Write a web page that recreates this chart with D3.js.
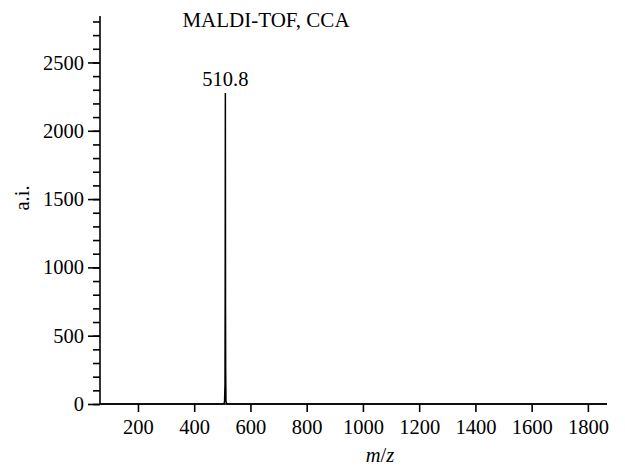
<!DOCTYPE html>
<html>
<head>
<meta charset="utf-8">
<script src="https://cdn.jsdelivr.net/npm/d3@7"></script>
<style>
  body { margin: 0; background: #fff; }
  svg text { font-family: "Liberation Serif", "Times New Roman", serif !important; fill: #000; }
</style>
</head>
<body>
<svg id="chart" width="625" height="468"></svg>
<script>
// spectrum data (m/z, intensity)
const mzValues   = [65, 500, 506, 508, 509.5, 510.2, 510.8, 511.4, 511.9, 512.5, 513, 516, 1868];
const intensity  = [0, 0, 0, 20, 150, 900, 2277, 700, 260, 120, 20, 0, 0];
const peakLabels = [{ mz: 510.8, text: "510.8" }];

const xTicks = [200, 400, 600, 800, 1000, 1200, 1400, 1600, 1800];
const yMajor = [0, 500, 1000, 1500, 2000, 2500];
const yMinor = d3.range(0, 2801, 100);

const X_DOMAIN = [65, 1868];
const Y_DOMAIN = [0, 2840];

const LEFT = 100, RIGHT = 607, TOP = 16, BOTTOM = 404;
const FS = "20.5px";

const svg = d3.select("#chart");

const x = d3.scaleLinear().domain(X_DOMAIN).range([LEFT, RIGHT]);
const y = d3.scaleLinear().domain(Y_DOMAIN).range([BOTTOM, TOP]);

// ── Y axis: minor ticks, then labelled majors ──
svg.append("g")
  .attr("transform", `translate(${LEFT},0)`)
  .call(d3.axisLeft(y).tickValues(yMinor).tickSize(7).tickSizeOuter(0).tickFormat(""))
  .call(g => g.select(".domain").remove())
  .call(g => g.selectAll("line").attr("stroke-width", 1.6));

const yAx = svg.append("g")
  .attr("transform", `translate(${LEFT},0)`)
  .call(d3.axisLeft(y).tickValues(yMajor).tickSize(12).tickSizeOuter(0)
    .tickPadding(4).tickFormat(d3.format("d")));
yAx.select(".domain").attr("d", `M0,${y(Y_DOMAIN[1])}V${BOTTOM}`).attr("stroke-width", 1.6);
yAx.selectAll("line").attr("stroke-width", 1.6);
yAx.selectAll("text").style("font-size", FS);

// ── X axis ──
const xAx = svg.append("g")
  .attr("transform", `translate(0,${BOTTOM})`)
  .call(d3.axisBottom(x).tickValues(xTicks).tickSize(8).tickSizeOuter(0)
    .tickPadding(7).tickFormat(d3.format("d")));
xAx.select(".domain").attr("d", `M${LEFT},0H${RIGHT}`).attr("stroke-width", 1.6);
xAx.selectAll("line").attr("stroke-width", 1.6);
xAx.selectAll("text").style("font-size", FS);

// ── Spectrum trace ──
const pts = mzValues.map((m, i) => [m, intensity[i]]);
svg.append("path")
  .datum(pts)
  .attr("fill", "none")
  .attr("stroke", "#000")
  .attr("stroke-width", 1.5)
  .attr("d", d3.line().x(d => x(d[0])).y(d => y(d[1])));

// ── Peak label ──
peakLabels.forEach(p => {
  const i = mzValues.indexOf(p.mz);
  svg.append("text")
    .attr("x", x(p.mz))
    .attr("y", y(intensity[i]) - 7)
    .attr("text-anchor", "middle")
    .style("font-size", FS)
    .text(p.text);
});

// ── Title and axis labels ──
svg.append("text")
  .attr("x", 266).attr("y", 27)
  .attr("text-anchor", "middle")
  .style("font-size", "21px")
  .text("MALDI-TOF, CCA");

svg.append("text")
  .attr("transform", "translate(29,198) rotate(-90)")
  .attr("text-anchor", "middle")
  .style("font-size", FS)
  .text("a.i.");

const xl = svg.append("text")
  .attr("x", 380).attr("y", 462)
  .attr("text-anchor", "middle")
  .style("font-size", FS);
xl.append("tspan").attr("font-style", "italic").text("m");
xl.append("tspan").text("/");
xl.append("tspan").attr("font-style", "italic").text("z");
</script>
</body>
</html>
